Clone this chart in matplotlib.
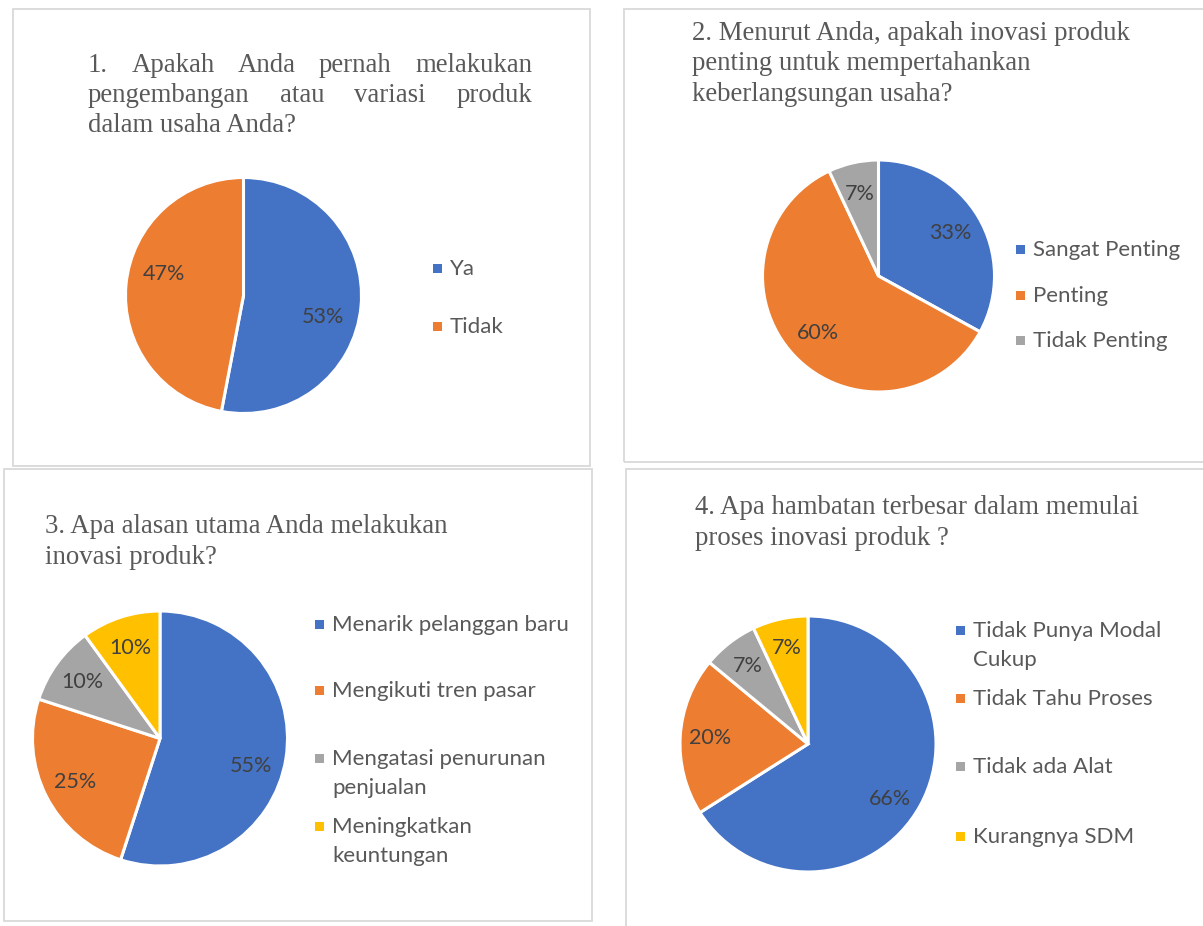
import numpy as np
import matplotlib
matplotlib.use("Agg")
import matplotlib.pyplot as plt
from matplotlib.patches import Rectangle

W, H = 1203, 926
colors = ["#4472C4", "#ED7D31", "#A5A5A5", "#FFC000"]

# data
q1_labels = ["Ya", "Tidak"]
q1_values = [53, 47]
q2_labels = ["Sangat Penting", "Penting", "Tidak Penting"]
q2_values = [33, 60, 7]
q3_labels = ["Menarik pelanggan baru", "Mengikuti tren pasar",
             "Mengatasi penurunan\npenjualan", "Meningkatkan\nkeuntungan"]
q3_values = [55, 25, 10, 10]
q4_labels = ["Tidak Punya Modal\nCukup", "Tidak Tahu Proses",
             "Tidak ada Alat", "Kurangnya SDM"]
q4_values = [66, 20, 7, 7]

q1_title = ["1. Apakah Anda pernah melakukan", "pengembangan atau variasi produk",
            "dalam usaha Anda?"]
q2_title = ["2. Menurut Anda, apakah inovasi produk", "penting untuk mempertahankan",
            "keberlangsungan usaha?"]
q3_title = ["3. Apa alasan utama Anda melakukan", "inovasi produk?"]
q4_title = ["4. Apa hambatan terbesar dalam memulai", "proses inovasi produk ?"]

SERIF = "Liberation Serif"
SANS = "Lato"
TITLE_C = "#595959"
LEG_C = "#595959"
LAB_C = "#404040"
TITLE_FS = 19.3
LEG_FS = 16
LAB_FS = 15.5

fig = plt.figure(figsize=(W / 100, H / 100), dpi=100)
fig.patch.set_facecolor("white")


def fx(x):
    return x / W


def fy(y):
    return 1 - y / H


# panel borders
for (x0, y0, x1, y1) in [(13, 9, 590, 466), (624, 9, 1215, 462),
                         (4, 469, 592, 921), (626, 469, 1215, 940)]:
    fig.add_artist(Rectangle((fx(x0), fy(y1)), (x1 - x0) / W, (y1 - y0) / H,
                             transform=fig.transFigure, fill=False,
                             edgecolor="#D9D9D9", lw=1.3))


def title(lines, x0, y0, step=30.5, justify_to=None, nj=0):
    r = fig.canvas.get_renderer()
    for i, line in enumerate(lines):
        y = y0 + i * step
        if justify_to and i < nj:
            words = line.split()
            ts = [fig.text(0, 0, w, fontsize=TITLE_FS, family=SERIF, color=TITLE_C,
                           va="baseline") for w in words]
            ws = [t.get_window_extent(r).width for t in ts]
            gap = (justify_to - x0 - sum(ws)) / (len(words) - 1)
            x = x0
            for t, w in zip(ts, ws):
                t.set_position((fx(x), fy(y)))
                x += w + gap
        else:
            fig.text(fx(x0), fy(y), line, fontsize=TITLE_FS, family=SERIF,
                     color=TITLE_C, va="baseline")


def pie(values, cx, cy, r, pctd, shift=None):
    m = 1.04
    ax = fig.add_axes([fx(cx - r * m), fy(cy + r * m), 2 * r * m / W, 2 * r * m / H])
    wedges, texts, autotexts = ax.pie(
        values, colors=colors[:len(values)], startangle=90, counterclock=False,
        radius=1, autopct=lambda p: f"{p:.0f}%", pctdistance=pctd,
        wedgeprops=dict(edgecolor="white", linewidth=2.2),
        textprops=dict(fontsize=LAB_FS, family=SANS, color=LAB_C))
    # nudge labels round the centre like Excel's best fit
    if shift:
        for t, s in zip(autotexts, shift):
            x, y = t.get_position()
            a = np.deg2rad(s)
            t.set_position((x * np.cos(a) - y * np.sin(a), x * np.sin(a) + y * np.cos(a)))
    ax.set_xlim(-m, m)
    ax.set_ylim(-m, m)
    ax.axis("off")


def legend(labels, mx, tx, baselines):
    for i, lab in enumerate(labels):
        lines = lab.split("\n")
        b = baselines[i]
        fig.add_artist(Rectangle((fx(mx), fy(b - 2)), 9 / W, 9 / H,
                                 transform=fig.transFigure, color=colors[i], lw=0))
        for j, ln in enumerate(lines):
            fig.text(fx(tx), fy(b + j * 29), ln, fontsize=LEG_FS, family=SANS,
                     color=LEG_C, va="baseline")


# 1
title(q1_title, 88, 72, step=30, justify_to=532, nj=2)
pie(q1_values, 243.5, 295.5, 118, 0.70, shift=[-10, -10])
legend(q1_labels, 433, 450, [275, 333])

# 2
title(q2_title, 692, 40, step=30.5)
pie(q2_values, 878.5, 276, 116, 0.72)
legend(q2_labels, 1016, 1033, [256, 302, 347])

# 3
title(q3_title, 45, 533, step=30.5)
pie(q3_values, 160, 738.5, 127.5, 0.75, shift=[-8, 0, 0, 0])
legend(q3_labels, 315, 332, [631, 697, 765, 833])

# 4
title(q4_title, 695, 514, step=31)
pie(q4_values, 808, 744, 128, 0.77, shift=[-5, 0, 0, 0])
legend(q4_labels, 956, 973, [637, 705, 773, 843])

fig.savefig("out.png", dpi=100)
